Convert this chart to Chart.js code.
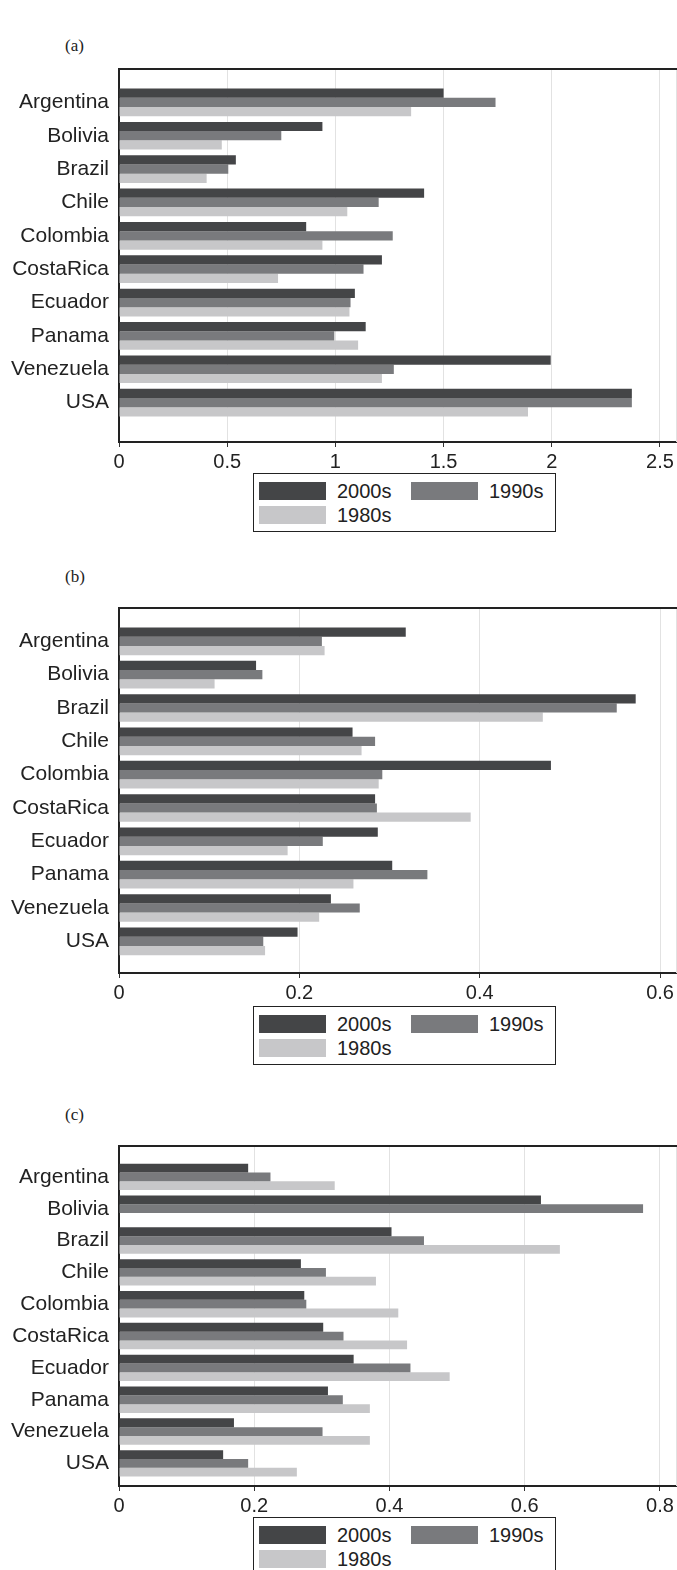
<!DOCTYPE html>
<html>
<head>
<meta charset="utf-8">
<script src="https://cdn.jsdelivr.net/npm/chart.js@4"></script>
<style>
    html, body { margin: 0; padding: 0; background: #fff; }
    body { width: 677px; height: 1570px; position: relative; overflow: hidden; font-family: 'Liberation Sans', Arial, sans-serif; color: #222; }
    .panel { position: absolute; left: 0; width: 677px; }
    .tag { position: absolute; font-family: 'Liberation Serif', serif; font-size: 17px; line-height: 20px; }
    .legend { position: absolute; box-sizing: border-box; border: 1px solid #222; width: 303px; height: 59px;
              padding: 5px 0 0 5px; display: grid; grid-template-columns: 152px 140px; grid-auto-rows: 24px; background: #fff; }
    .legend-item { display: flex; align-items: center; font-size: 20px; }
    .swatch { width: 67px; height: 18px; margin-right: 11px; }
</style>
</head>
<body>

<script>
const countries = ['Argentina', 'Bolivia', 'Brazil', 'Chile', 'Colombia', 'CostaRica', 'Ecuador', 'Panama', 'Venezuela', 'USA'];
const seriesNames = ['2000s', '1990s', '1980s'];
const seriesColors = ['#444547', '#797a7d', '#c7c7c9'];

// panel (a)
const a2000s = [1.50, 0.94, 0.54, 1.41, 0.865, 1.215, 1.09, 1.14, 1.995, 2.37];
const a1990s = [1.74, 0.75, 0.505, 1.20, 1.265, 1.13, 1.07, 0.995, 1.27, 2.37];
const a1980s = [1.35, 0.475, 0.405, 1.055, 0.94, 0.735, 1.065, 1.105, 1.215, 1.89];
const aTicks = [0, 0.5, 1, 1.5, 2, 2.5];

// panel (b)
const b2000s = [0.318, 0.152, 0.573, 0.259, 0.479, 0.284, 0.287, 0.303, 0.235, 0.198];
const b1990s = [0.225, 0.159, 0.552, 0.284, 0.292, 0.286, 0.226, 0.342, 0.267, 0.160];
const b1980s = [0.228, 0.106, 0.470, 0.269, 0.288, 0.390, 0.187, 0.260, 0.222, 0.162];
const bTicks = [0, 0.2, 0.4, 0.6];

// panel (c) - no 1980s value for Bolivia
const c2000s = [0.191, 0.624, 0.403, 0.269, 0.274, 0.302, 0.347, 0.309, 0.170, 0.154];
const c1990s = [0.224, 0.775, 0.451, 0.306, 0.277, 0.332, 0.431, 0.331, 0.301, 0.191];
const c1980s = [0.319, null, 0.652, 0.380, 0.413, 0.426, 0.489, 0.371, 0.371, 0.263];
const cTicks = [0, 0.2, 0.4, 0.6, 0.8];

const AXIS_H = 34;

const panels = [
    { tag: '(a)', tagTop: 36, top: 69, bottom: 442, yMin: 0, yMax: 11.18, xMax: 2.574, ticks: aTicks, series: [a2000s, a1990s, a1980s], legendTop: 473 },
    { tag: '(b)', tagTop: 567, top: 608, bottom: 973, yMin: 0, yMax: 10.95, xMax: 0.6177, ticks: bTicks, series: [b2000s, b1990s, b1980s], legendTop: 1006 },
    { tag: '(c)', tagTop: 1105, top: 1146, bottom: 1486, yMin: 0.03, yMax: 10.71, xMax: 0.8237, ticks: cTicks, series: [c2000s, c1990s, c1980s], legendTop: 1517 }
];

const framePlugin = {
    id: 'frame',
    afterDraw(chart) {
        const { ctx, chartArea } = chart;
        ctx.save();
        ctx.strokeStyle = '#e2e2e2';
        ctx.lineWidth = 1;
        ctx.beginPath();
        ctx.moveTo(chartArea.right + 0.5, chartArea.top);
        ctx.lineTo(chartArea.right + 0.5, chartArea.bottom);
        ctx.stroke();
        ctx.strokeStyle = '#222';
        ctx.lineWidth = 2;
        ctx.beginPath();
        ctx.moveTo(chartArea.left - 1, chartArea.top);
        ctx.lineTo(chartArea.right + 1, chartArea.top);
        ctx.stroke();
        ctx.restore();
    }
};

function buildLegend(top) {
    const box = document.createElement('div');
    box.className = 'legend';
    box.style.left = '253px';
    box.style.top = top + 'px';
    seriesNames.forEach((name, i) => {
        const item = document.createElement('div');
        item.className = 'legend-item';
        item.innerHTML = `<span class="swatch" style="background:${seriesColors[i]}"></span>${name}`;
        box.appendChild(item);
    });
    document.body.appendChild(box);
}

function buildPanel(p) {
    const tag = document.createElement('div');
    tag.className = 'tag';
    tag.style.left = '65px';
    tag.style.top = p.tagTop + 'px';
    tag.textContent = p.tag;
    document.body.appendChild(tag);

    const wrap = document.createElement('div');
    wrap.className = 'panel';
    wrap.style.top = (p.top - 2) + 'px';
    wrap.style.height = (p.bottom - p.top + 2 + AXIS_H) + 'px';
    const canvas = document.createElement('canvas');
    wrap.appendChild(canvas);
    document.body.appendChild(wrap);

    const datasets = p.series.map((values, i) => ({
        label: seriesNames[i],
        data: values.map((v, k) => ({ x: v, y: k + 1 })),
        backgroundColor: seriesColors[i],
        borderWidth: 0,
        categoryPercentage: 0.83,
        barPercentage: 1.0
    }));

    new Chart(canvas.getContext('2d'), {
        type: 'bar',
        data: { datasets: datasets },
        options: {
            indexAxis: 'y',
            responsive: true,
            maintainAspectRatio: false,
            animation: false,
            layout: { padding: { top: 2, left: 0, right: 1, bottom: 0 } },
            plugins: {
                legend: { display: false },
                tooltip: { enabled: false }
            },
            scales: {
                x: {
                    type: 'linear',
                    position: 'bottom',
                    min: 0,
                    max: p.xMax,
                    afterFit: scale => {
                        scale.height = AXIS_H;
                        scale.paddingLeft = 0;
                        scale.paddingRight = 0;
                    },
                    afterBuildTicks: scale => { scale.ticks = p.ticks.map(v => ({ value: v })); },
                    grid: { color: '#e2e2e2', lineWidth: 1, tickColor: '#333', tickLength: 5 },
                    border: { display: true, color: '#222', width: 2 },
                    ticks: {
                        color: '#222',
                        padding: 3,
                        maxRotation: 0,
                        font: { family: 'Liberation Sans', size: 20 },
                        callback: v => String(v)
                    }
                },
                y: {
                    type: 'linear',
                    reverse: true,
                    offset: false,
                    min: p.yMin,
                    max: p.yMax,
                    afterFit: scale => {
                        scale.width = 119;
                        scale.paddingTop = 0;
                        scale.paddingBottom = 0;
                    },
                    afterBuildTicks: scale => { scale.ticks = countries.map((c, k) => ({ value: k + 1 })); },
                    grid: { display: false, drawTicks: false, offset: false },
                    border: { display: true, color: '#222', width: 2 },
                    ticks: {
                        color: '#222',
                        padding: 10,
                        font: { family: 'Liberation Sans', size: 21 },
                        callback: v => countries[v - 1] || ''
                    }
                }
            }
        },
        plugins: [framePlugin]
    });

    buildLegend(p.legendTop);
}

panels.forEach(buildPanel);
</script>
</body>
</html>
